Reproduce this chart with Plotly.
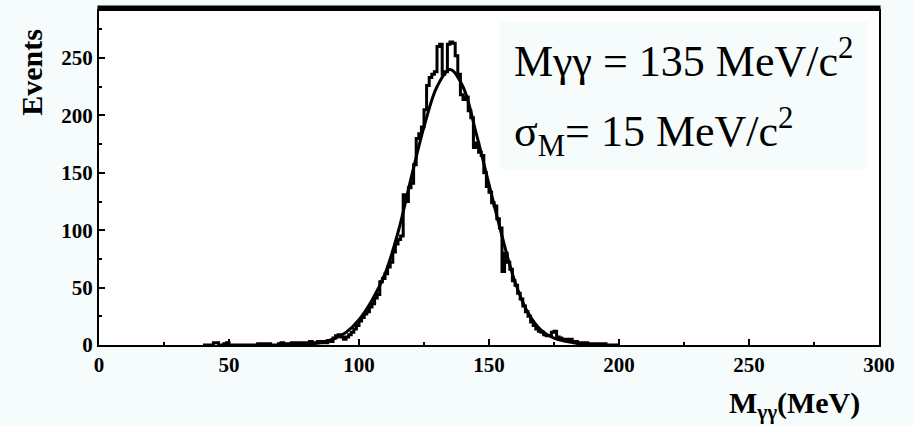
import plotly.graph_objects as go

# Diphoton invariant mass histogram, 1 MeV bins (left edges)
bin_left = list(range(40, 200))
counts = [
    0, 0, 0, 0, 2, 2, 0, 0, 1, 2,            # 40-49
    0, 0, 0, 0, 0, 0, 0, 0, 0, 0,            # 50-59
    0, 1, 1, 0, 1, 1, 0, 0, 0, 1,            # 60-69
    2, 1, 0, 1, 2, 1, 2, 1, 2, 1,            # 70-79
    2, 3, 1, 2, 3, 2, 3, 2, 4, 3,            # 80-89
    6, 8, 9, 7, 5, 7, 9, 11, 14, 17,         # 90-99
    21, 24, 27, 29, 33, 36, 41, 44, 55, 58,  # 100-109
    62, 68, 72, 81, 88, 92, 95, 131, 125, 137,   # 110-119
    141, 157, 180, 184, 190, 205, 226, 233, 236, 238,  # 120-129
    260, 262, 236, 238, 262, 264, 263, 252, 236, 218,  # 130-139
    214, 216, 204, 198, 172, 176, 168, 165, 150, 138,  # 140-149
    133, 124, 121, 110, 102, 64, 80, 72, 66, 56,       # 150-159
    52, 45, 40, 34, 29, 25, 20, 17, 14, 12,  # 160-169
    11, 9, 8, 8, 11, 12, 7, 6, 5, 5,         # 170-179
    4, 5, 3, 3, 2, 2, 1, 2, 1, 1,            # 180-189
    1, 1, 0, 1, 1, 0, 0, 0, 0, 0,            # 190-199
]

# Gaussian fit curve sampled every 5 MeV
fit_mass = [75, 80, 85, 90, 95, 100, 105, 110, 115, 120, 125, 130, 135,
            140, 145, 150, 155, 160, 165, 170, 175, 180, 185, 190, 195]
fit_events = [0, 1, 2, 5, 11, 22, 39, 62, 98, 145, 190, 225, 240,
              225, 185, 140, 95, 55, 28, 13, 6, 3, 1, 0, 0]

x_ticks = [0, 50, 100, 150, 200, 250, 300]
y_ticks = [0, 50, 100, 150, 200, 250]

line1 = "Mγγ = 135 MeV/c<sup>2</sup>"
line2 = "σ<sub>M</sub>= 15 MeV/c<sup>2</sup>"

SERIF = "'Liberation Serif', 'Times New Roman', 'DejaVu Serif', serif"
tick_font = dict(family=SERIF, size=21, color="black", weight="bold")
title_font = dict(family=SERIF, size=30, color="black", weight="bold")
box_font = dict(family=SERIF, size=44, color="black")

fig = go.Figure()
fig.add_trace(go.Scatter(
    x=bin_left + [bin_left[-1] + 1], y=counts + [counts[-1]],
    mode="lines", line=dict(shape="hv", color="black", width=3),
    hoverinfo="skip", showlegend=False))
fig.add_trace(go.Scatter(
    x=fit_mass, y=fit_events, mode="lines",
    line=dict(shape="spline", color="black", width=3),
    hoverinfo="skip", showlegend=False))

axis_common = dict(
    showgrid=False, zeroline=False, showline=True, linecolor="black",
    linewidth=2, mirror=True, ticks="inside", ticklen=6, tickwidth=2,
    tickcolor="black", tickfont=tick_font,
)
fig.update_xaxes(range=[0, 300], tickvals=x_ticks, ticktext=[str(v) for v in x_ticks],
                 minor=dict(ticks="inside", ticklen=3, tickwidth=2, dtick=25,
                            tickcolor="black"),
                 **axis_common)
fig.update_yaxes(range=[0, 291], tickvals=y_ticks, ticktext=[str(v) for v in y_ticks],
                 minor=dict(ticks="inside", ticklen=3, tickwidth=2, dtick=25,
                            tickcolor="black"),
                 **axis_common)

# heavy top edge of the frame
fig.add_shape(type="line", xref="paper", yref="paper", x0=-0.002, x1=1.002,
              y0=1.009, y1=1.009, line=dict(color="black", width=5))
# label box
fig.add_shape(type="rect", xref="paper", yref="paper", x0=0.514, x1=0.985,
              y0=0.527, y1=0.967, fillcolor="#f6fbfc", line=dict(width=0),
              layer="below")

fig.add_annotation(text=line1, xref="paper", yref="paper", x=0.5295, y=0.857,
                   xanchor="left", yanchor="middle", showarrow=False, font=box_font)
fig.add_annotation(text=line2, xref="paper", yref="paper", x=0.5295, y=0.637,
                   xanchor="left", yanchor="middle", showarrow=False, font=box_font)

fig.add_annotation(text="Events", xref="paper", yref="paper", x=-0.086, y=0.818,
                   textangle=-90, xanchor="center", yanchor="middle",
                   showarrow=False, font=title_font)
fig.add_annotation(text="M<sub>γγ</sub>(MeV)", xref="paper", yref="paper",
                   x=0.978, y=-0.179, xanchor="right", yanchor="middle",
                   showarrow=False, font=title_font)

fig.update_layout(
    width=913, height=426,
    margin=dict(l=99, r=34, t=9, b=81),
    paper_bgcolor="#f6fbfc", plot_bgcolor="white",
)

fig.write_html("out.html")
